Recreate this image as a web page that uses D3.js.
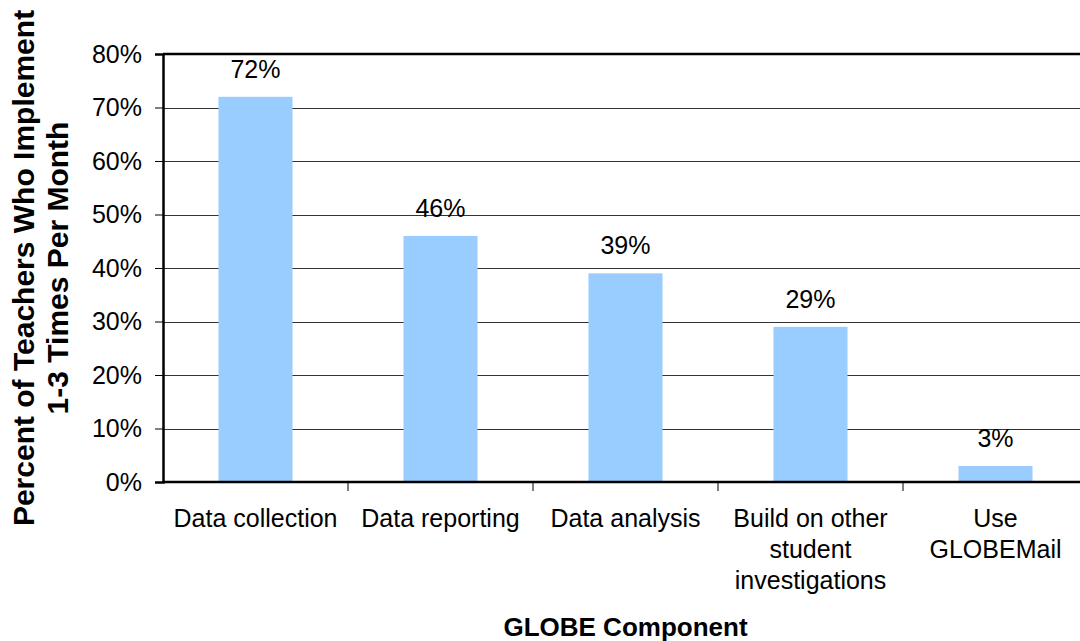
<!DOCTYPE html>
<html>
<head>
<meta charset="utf-8">
<script src="https://cdn.jsdelivr.net/npm/d3@7"></script>
<style>
  body { margin: 0; background: #fff; }
  text { font-family: "Liberation Sans", Arial, sans-serif; fill: #000; }
</style>
</head>
<body>
<div id="chart"></div>
<script>
"use strict";

const categories = [
  ["Data collection"],
  ["Data reporting"],
  ["Data analysis"],
  ["Build on other", "student", "investigations"],
  ["Use", "GLOBEMail"]
];
const values = [72, 46, 39, 29, 3];
const yTicks = [0, 10, 20, 30, 40, 50, 60, 70, 80];

const width = 1080;
const height = 641;
const margin = { top: 54, right: -8, bottom: 159, left: 163 };
const fontSize = "25px";

const svg = d3.select("#chart").append("svg")
  .attr("width", width)
  .attr("height", height);

const x = d3.scaleBand()
  .domain(d3.range(categories.length))
  .range([margin.left, width - margin.right])
  .paddingInner(0)
  .paddingOuter(0);

const y = d3.scaleLinear()
  .domain([0, 80])
  .range([height - margin.bottom, margin.top]);

// gridlines
svg.append("g")
  .selectAll("line")
  .data(yTicks.filter(t => t > 0 && t < 80))
  .join("line")
  .attr("x1", margin.left)
  .attr("x2", width)
  .attr("y1", d => Math.round(y(d)) + 0.5)
  .attr("y2", d => Math.round(y(d)) + 0.5)
  .attr("stroke", "#333")
  .attr("stroke-width", 1);

// top border
svg.append("line")
  .attr("x1", margin.left)
  .attr("x2", width)
  .attr("y1", y(80))
  .attr("y2", y(80))
  .attr("stroke", "#000")
  .attr("stroke-width", 2.5);

// bars
const barWidth = 74;
svg.append("g")
  .selectAll("rect")
  .data(values)
  .join("rect")
  .attr("x", (d, i) => x(i) + x.bandwidth() / 2 - barWidth / 2)
  .attr("y", d => y(d))
  .attr("width", barWidth)
  .attr("height", d => y(0) - y(d))
  .attr("fill", "#99CCFF");

// value labels
svg.append("g")
  .selectAll("text")
  .data(values)
  .join("text")
  .attr("x", (d, i) => x(i) + x.bandwidth() / 2)
  .attr("y", d => y(d) - 19)
  .attr("text-anchor", "middle")
  .style("font-size", fontSize)
  .text(d => d + "%");

// y axis
const yAxis = svg.append("g")
  .attr("transform", "translate(" + margin.left + ",0)")
  .call(d3.axisLeft(y).tickValues(yTicks).tickSize(8).tickPadding(13).tickFormat(d => d + "%"));
yAxis.select(".domain").attr("stroke", "#000").attr("stroke-width", 2.5);
yAxis.selectAll(".tick line").attr("stroke", "#000");
yAxis.selectAll(".tick text")
  .style("font-size", fontSize)
  .style("font-family", "Liberation Sans, Arial, sans-serif")
  .attr("fill", "#000");

// x axis
const xAxis = svg.append("g")
  .attr("transform", "translate(0," + y(0) + ")");
xAxis.append("line")
  .attr("x1", margin.left)
  .attr("x2", width)
  .attr("stroke", "#000")
  .attr("stroke-width", 2.5);
xAxis.selectAll(".xtick")
  .data(d3.range(1, categories.length))
  .join("line")
  .attr("class", "xtick")
  .attr("x1", d => x(d))
  .attr("x2", d => x(d))
  .attr("y1", 0)
  .attr("y2", 9)
  .attr("stroke", "#000");

const catLabels = xAxis.selectAll(".xlabel")
  .data(categories)
  .join("text")
  .attr("class", "xlabel")
  .attr("text-anchor", "middle")
  .attr("transform", (d, i) => "translate(" + (x(i) + x.bandwidth() / 2) + ",0)")
  .style("font-size", fontSize);
catLabels.selectAll("tspan")
  .data(d => d)
  .join("tspan")
  .attr("x", 0)
  .attr("y", (d, i) => 45 + i * 31)
  .text(d => d);

// axis titles
svg.append("text")
  .attr("x", (margin.left + width - margin.right) / 2)
  .attr("y", 636)
  .attr("text-anchor", "middle")
  .style("font-size", "26px")
  .style("font-weight", "bold")
  .text("GLOBE Component");

const yTitle = svg.append("text")
  .attr("transform", "translate(0," + (y(0) + y(80)) / 2 + ") rotate(-90)")
  .attr("text-anchor", "middle")
  .style("font-size", "30px")
  .style("font-weight", "bold");
yTitle.append("tspan").attr("x", 0).attr("y", 34).text("Percent of Teachers Who Implement");
yTitle.append("tspan").attr("x", 0).attr("y", 68).text("1-3 Times Per Month");
</script>
</body>
</html>
